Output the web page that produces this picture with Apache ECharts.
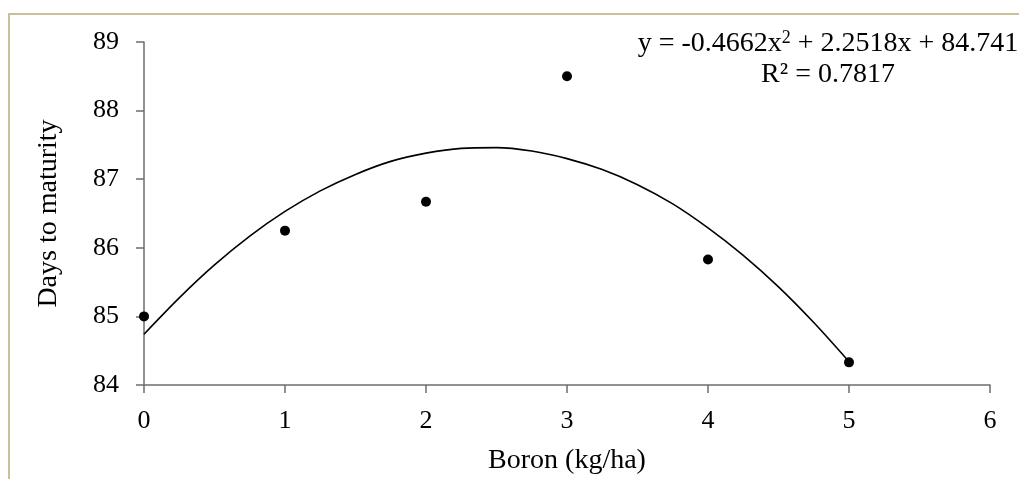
<!DOCTYPE html>
<html>
<head>
<meta charset="utf-8">
<script src="https://cdn.jsdelivr.net/npm/echarts@6/dist/echarts.min.js"></script>
<style>
  html, body { margin: 0; padding: 0; background: #fff; }
  #chart { width: 1019px; height: 479px; }
</style>
</head>
<body>
<div id="chart"></div>
<script>
// observed values
const boron = [0, 1, 2, 3, 4, 5];
const days = [85, 86.25, 86.67, 88.5, 85.83, 84.33];

// trend line
const trendX = [0, 0.25, 0.5, 0.75, 1, 1.25, 1.5, 1.75, 2, 2.25, 2.5,
  2.75, 3, 3.25, 3.5, 3.75, 4, 4.25, 4.5, 4.75, 5];
const trendY = [84.74, 85.27, 85.75, 86.17, 86.53, 86.83, 87.07, 87.26, 87.38, 87.45, 87.46,
  87.41, 87.30, 87.14, 86.92, 86.64, 86.29, 85.89, 85.43, 84.91, 84.34];

const xTicks = [0, 1, 2, 3, 4, 5, 6];
const yTicks = [84, 85, 86, 87, 88, 89];

const font = 'Liberation Serif';
const axisGray = '#6d6d6d';

const chart = echarts.init(document.getElementById('chart'));

chart.setOption({
  animation: false,
  backgroundColor: '#fff',
  grid: { left: 144, right: 29, top: 42, bottom: 94, outerBoundsMode: 'none' },
  xAxis: {
    type: 'value',
    min: xTicks[0],
    max: xTicks[xTicks.length - 1],
    interval: 1,
    name: 'Boron (kg/ha)',
    nameLocation: 'middle',
    nameGap: 62,
    nameTextStyle: { fontFamily: font, fontSize: 28, color: '#000' },
    axisLine: { lineStyle: { color: axisGray, width: 1.5 } },
    axisTick: { show: true, length: 8, lineStyle: { color: axisGray, width: 1.5 } },
    axisLabel: { fontFamily: font, fontSize: 26, color: '#000', margin: 23 },
    splitLine: { show: false }
  },
  yAxis: {
    type: 'value',
    min: yTicks[0],
    max: yTicks[yTicks.length - 1],
    interval: 1,
    name: 'Days to maturity',
    nameLocation: 'middle',
    nameGap: 81,
    nameTextStyle: { fontFamily: font, fontSize: 28, color: '#000' },
    axisLine: { show: true, lineStyle: { color: axisGray, width: 1.5 } },
    axisTick: { show: true, length: 8, lineStyle: { color: axisGray, width: 1.5 } },
    axisLabel: { fontFamily: font, fontSize: 26, color: '#000', margin: 25 },
    splitLine: { show: false }
  },
  series: [
    {
      type: 'line',
      data: trendX.map((x, i) => [x, trendY[i]]),
      smooth: 0.3,
      showSymbol: false,
      lineStyle: { color: '#000', width: 1.6 },
      z: 2
    },
    {
      type: 'scatter',
      data: boron.map((x, i) => [x, days[i]]),
      symbol: 'circle',
      symbolSize: 10,
      itemStyle: { color: '#000', opacity: 1 },
      z: 3
    }
  ],
  graphic: [
    // frame on top and left
    {
      type: 'polyline',
      shape: { points: [[9, 479], [9, 14], [1019, 14]] },
      style: { stroke: '#c9bf98', lineWidth: 2, fill: null }
    },
    {
      type: 'text',
      x: 828,
      y: 44,
      style: {
        text: '{t|y = -0.4662x}{s|2}{t| + 2.2518x + 84.741}',
        align: 'center',
        verticalAlign: 'middle',
        rich: {
          t: { fontFamily: font, fontSize: 28, fill: '#000' },
          s: { fontFamily: font, fontSize: 18, fill: '#000', verticalAlign: 'top', padding: [0, 0, 12, 0] }
        }
      }
    },
    {
      type: 'text',
      x: 828,
      y: 75,
      style: {
        text: 'R² = 0.7817',
        align: 'center',
        verticalAlign: 'middle',
        fontFamily: font,
        fontSize: 28,
        fill: '#000'
      }
    }
  ]
});
</script>
</body>
</html>
